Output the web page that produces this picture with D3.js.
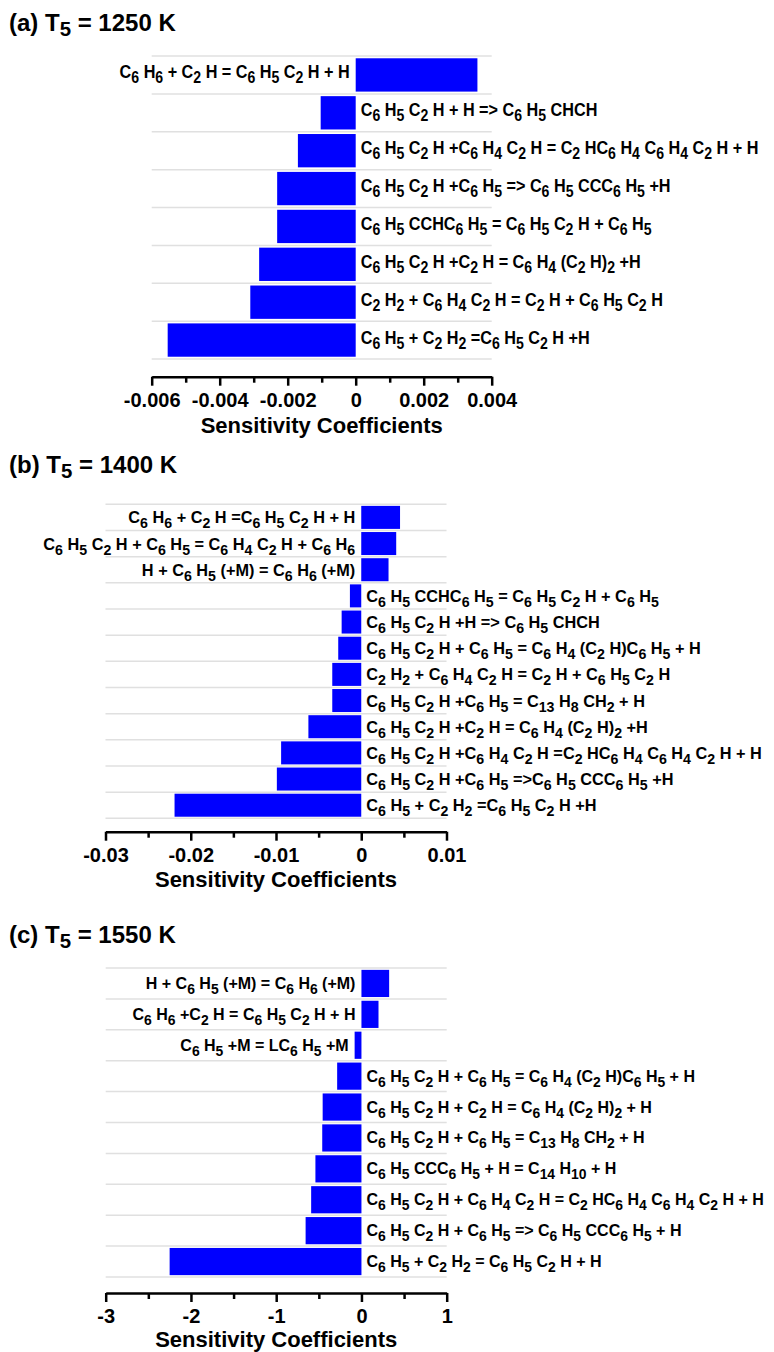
<!DOCTYPE html>
<html><head><meta charset="utf-8">
<script src="https://cdn.jsdelivr.net/npm/d3@7"></script>
<style>
html,body{margin:0;padding:0;background:#fff;}
svg{display:block;}
text{font-family:'Liberation Sans',Arial,Helvetica,sans-serif;font-weight:bold;fill:#000;white-space:pre;}
</style></head><body>
<svg id="chart" width="774" height="1352"></svg>
<script>
// ---------- DATA ----------
const panelTitles = ["(a) T_5 = 1250 K", "(b) T_5 = 1400 K", "(c) T_5 = 1550 K"];
const axisTitle = "Sensitivity Coefficients";

const labelsA = [
  "C_6 H_6 + C_2 H = C_6 H_5 C_2 H + H",
  "C_6 H_5 C_2 H + H => C_6 H_5 CHCH",
  "C_6 H_5 C_2 H +C_6 H_4 C_2 H = C_2 HC_6 H_4 C_6 H_4 C_2 H + H",
  "C_6 H_5 C_2 H +C_6 H_5 => C_6 H_5 CCC_6 H_5 +H",
  "C_6 H_5 CCHC_6 H_5 = C_6 H_5 C_2 H + C_6 H_5",
  "C_6 H_5 C_2 H +C_2 H = C_6 H_4 (C_2 H)_2 +H",
  "C_2 H_2 + C_6 H_4 C_2 H = C_2 H + C_6 H_5 C_2 H",
  "C_6 H_5 + C_2 H_2 =C_6 H_5 C_2 H +H"
];
const valuesA = [0.00358, -0.00103, -0.0017, -0.00231, -0.00231, -0.00284, -0.0031, -0.00553];
const leftLabelRowsA = 1;   // first rows whose labels sit left of the bars
const ticksA = [-0.006, -0.004, -0.002, 0, 0.002, 0.004];
const tickLabelsA = ["-0.006", "-0.004", "-0.002", "0", "0.002", "0.004"];
const minorTicksA = [-0.005, -0.003, -0.001, 0.001, 0.003];

const labelsB = [
  "C_6 H_6 + C_2 H =C_6 H_5 C_2 H + H",
  "C_6 H_5 C_2 H + C_6 H_5 = C_6 H_4 C_2 H + C_6 H_6",
  "H + C_6 H_5 (+M) = C_6 H_6 (+M)",
  "C_6 H_5 CCHC_6 H_5 = C_6 H_5 C_2 H + C_6 H_5",
  "C_6 H_5 C_2 H +H => C_6 H_5 CHCH",
  "C_6 H_5 C_2 H + C_6 H_5 = C_6 H_4 (C_2 H)C_6 H_5 + H",
  "C_2 H_2 + C_6 H_4 C_2 H = C_2 H + C_6 H_5 C_2 H",
  "C_6 H_5 C_2 H +C_6 H_5 = C_13 H_8 CH_2 + H",
  "C_6 H_5 C_2 H +C_2 H = C_6 H_4 (C_2 H)_2 +H",
  "C_6 H_5 C_2 H +C_6 H_4 C_2 H =C_2 HC_6 H_4 C_6 H_4 C_2 H + H",
  "C_6 H_5 C_2 H +C_6 H_5 =>C_6 H_5 CCC_6 H_5 +H",
  "C_6 H_5 + C_2 H_2 =C_6 H_5 C_2 H +H"
];
const valuesB = [0.00455, 0.0041, 0.0032, -0.00133, -0.0023, -0.0027, -0.0034, -0.0034, -0.0062, -0.0094, -0.0099, -0.0219];
const leftLabelRowsB = 3;
const ticksB = [-0.03, -0.02, -0.01, 0, 0.01];
const tickLabelsB = ["-0.03", "-0.02", "-0.01", "0", "0.01"];
const minorTicksB = [-0.025, -0.015, -0.005, 0.005];

const labelsC = [
  "H + C_6 H_5 (+M) = C_6 H_6 (+M)",
  "C_6 H_6 +C_2 H = C_6 H_5 C_2 H + H",
  "C_6 H_5 +M = LC_6 H_5 +M",
  "C_6 H_5 C_2 H + C_6 H_5 = C_6 H_4 (C_2 H)C_6 H_5 + H",
  "C_6 H_5 C_2 H + C_2 H = C_6 H_4 (C_2 H)_2 + H",
  "C_6 H_5 C_2 H + C_6 H_5 = C_13 H_8 CH_2 + H",
  "C_6 H_5 CCC_6 H_5 + H = C_14 H_10 + H",
  "C_6 H_5 C_2 H + C_6 H_4 C_2 H = C_2 HC_6 H_4 C_6 H_4 C_2 H + H",
  "C_6 H_5 C_2 H + C_6 H_5 => C_6 H_5 CCC_6 H_5 + H",
  "C_6 H_5 + C_2 H_2 = C_6 H_5 C_2 H + H"
];
const valuesC = [0.325, 0.2, -0.08, -0.285, -0.455, -0.46, -0.54, -0.59, -0.655, -2.25];
const leftLabelRowsC = 3;
const ticksC = [-3, -2, -1, 0, 1];
const tickLabelsC = ["-3", "-2", "-1", "0", "1"];
const minorTicksC = [-2.5, -1.5, -0.5, 0.5];

// ---------- LAYOUT ----------
const panels = [
  {title: panelTitles[0], titleY: 31, labels: labelsA, values: valuesA, nLeft: leftLabelRowsA, ticks: ticksA, tickLabels: tickLabelsA, minor: minorTicksA,
   domain: [-0.006, 0.004], xRange: [151.7, 491.7], yRange: [56, 359], axisY: 376.7, fs: 18, sx: 0.9, base: 3.5, titleDy: 56},
  {title: panelTitles[1], titleY: 473, labels: labelsB, values: valuesB, nLeft: leftLabelRowsB, ticks: ticksB, tickLabels: tickLabelsB, minor: minorTicksB,
   domain: [-0.03, 0.01], xRange: [105.5, 446.5], yRange: [504.3, 818.3], axisY: 831.7, fs: 16.3, sx: 1, base: 6, titleDy: 55},
  {title: panelTitles[2], titleY: 943, labels: labelsC, values: valuesC, nLeft: leftLabelRowsC, ticks: ticksC, tickLabels: tickLabelsC, minor: minorTicksC,
   domain: [-3, 1], xRange: [105.7, 446.7], yRange: [968, 1277], axisY: 1293, fs: 16, sx: 1, base: 5.5, titleDy: 54}
];

const svg = d3.select("#chart");

function richText(sel, str, fs, subScale, subShift) {
  const parts = str.split(/(_\d+)/).filter(s => s.length);
  let shifted = false;
  parts.forEach(p => {
    if (p[0] === "_") {
      sel.append("tspan").attr("font-size", fs * subScale).attr("dy", shifted ? 0 : subShift).text(p.slice(1));
      shifted = true;
    } else {
      sel.append("tspan").attr("font-size", fs).attr("dy", shifted ? -subShift : 0).text(p);
      shifted = false;
    }
  });
}

panels.forEach(p => {
  const g = svg.append("g");
  // Panel title
  const t = g.append("text").attr("x", 9).attr("y", p.titleY).attr("font-size", 24);
  richText(t, p.title, 24, 0.85, 5);

  const x = d3.scaleLinear().domain(p.domain).range(p.xRange);
  const n = p.labels.length;
  const y = d3.scaleBand().domain(d3.range(n)).range(p.yRange).paddingInner(0.12).paddingOuter(0.06);
  const step = y.step();

  // light horizontal grid lines at band boundaries
  g.append("g").selectAll("line").data(d3.range(n + 1)).join("line")
    .attr("x1", p.xRange[0]).attr("x2", p.xRange[1])
    .attr("y1", i => p.yRange[0] + i * step).attr("y2", i => p.yRange[0] + i * step)
    .attr("stroke", "#e0e0e0").attr("stroke-width", 1.5);

  // bars
  g.append("g").selectAll("rect").data(p.values).join("rect")
    .attr("x", v => x(Math.min(0, v)))
    .attr("width", v => Math.abs(x(v) - x(0)))
    .attr("y", (v, i) => y(i))
    .attr("height", y.bandwidth())
    .attr("fill", "#0000ff");

  // reaction labels
  p.values.forEach((v, i) => {
    const left = i < p.nLeft;
    const lx = left ? x(Math.min(0, v)) - 6 : x(0) + 5;
    const ly = y(i) + y.bandwidth() / 2 + p.base;
    const lg = g.append("g").attr("transform", `translate(${lx},${ly}) scale(${p.sx},1)`);
    const txt = lg.append("text").attr("x", 0).attr("y", 0)
      .attr("text-anchor", left ? "end" : "start").attr("font-size", p.fs);
    richText(txt, p.labels[i], p.fs, 0.87, 5);
  });

  // axis
  const major = d3.axisBottom(x).tickValues(p.ticks).tickFormat((d, i) => p.tickLabels[i])
    .tickSize(9).tickSizeOuter(0).tickPadding(7);
  const minor = d3.axisBottom(x).tickValues(p.minor).tickFormat("").tickSize(6).tickSizeOuter(0);
  const ga = g.append("g").attr("transform", `translate(0,${p.axisY})`).call(major);
  const gm = g.append("g").attr("transform", `translate(0,${p.axisY})`).call(minor);
  gm.select(".domain").remove();
  [ga, gm].forEach(a => {
    a.selectAll("path, line").attr("stroke", "#000").attr("stroke-width", 2.5);
  });
  ga.selectAll("text").attr("font-size", 20).attr("fill", "#000")
    .style("font-family", "'Liberation Sans',Arial,sans-serif").style("font-weight", "bold");

  g.append("text").attr("x", (p.xRange[0] + p.xRange[1]) / 2).attr("y", p.axisY + p.titleDy)
    .attr("text-anchor", "middle").attr("font-size", 22).text(axisTitle);
});
</script>
</body></html>
